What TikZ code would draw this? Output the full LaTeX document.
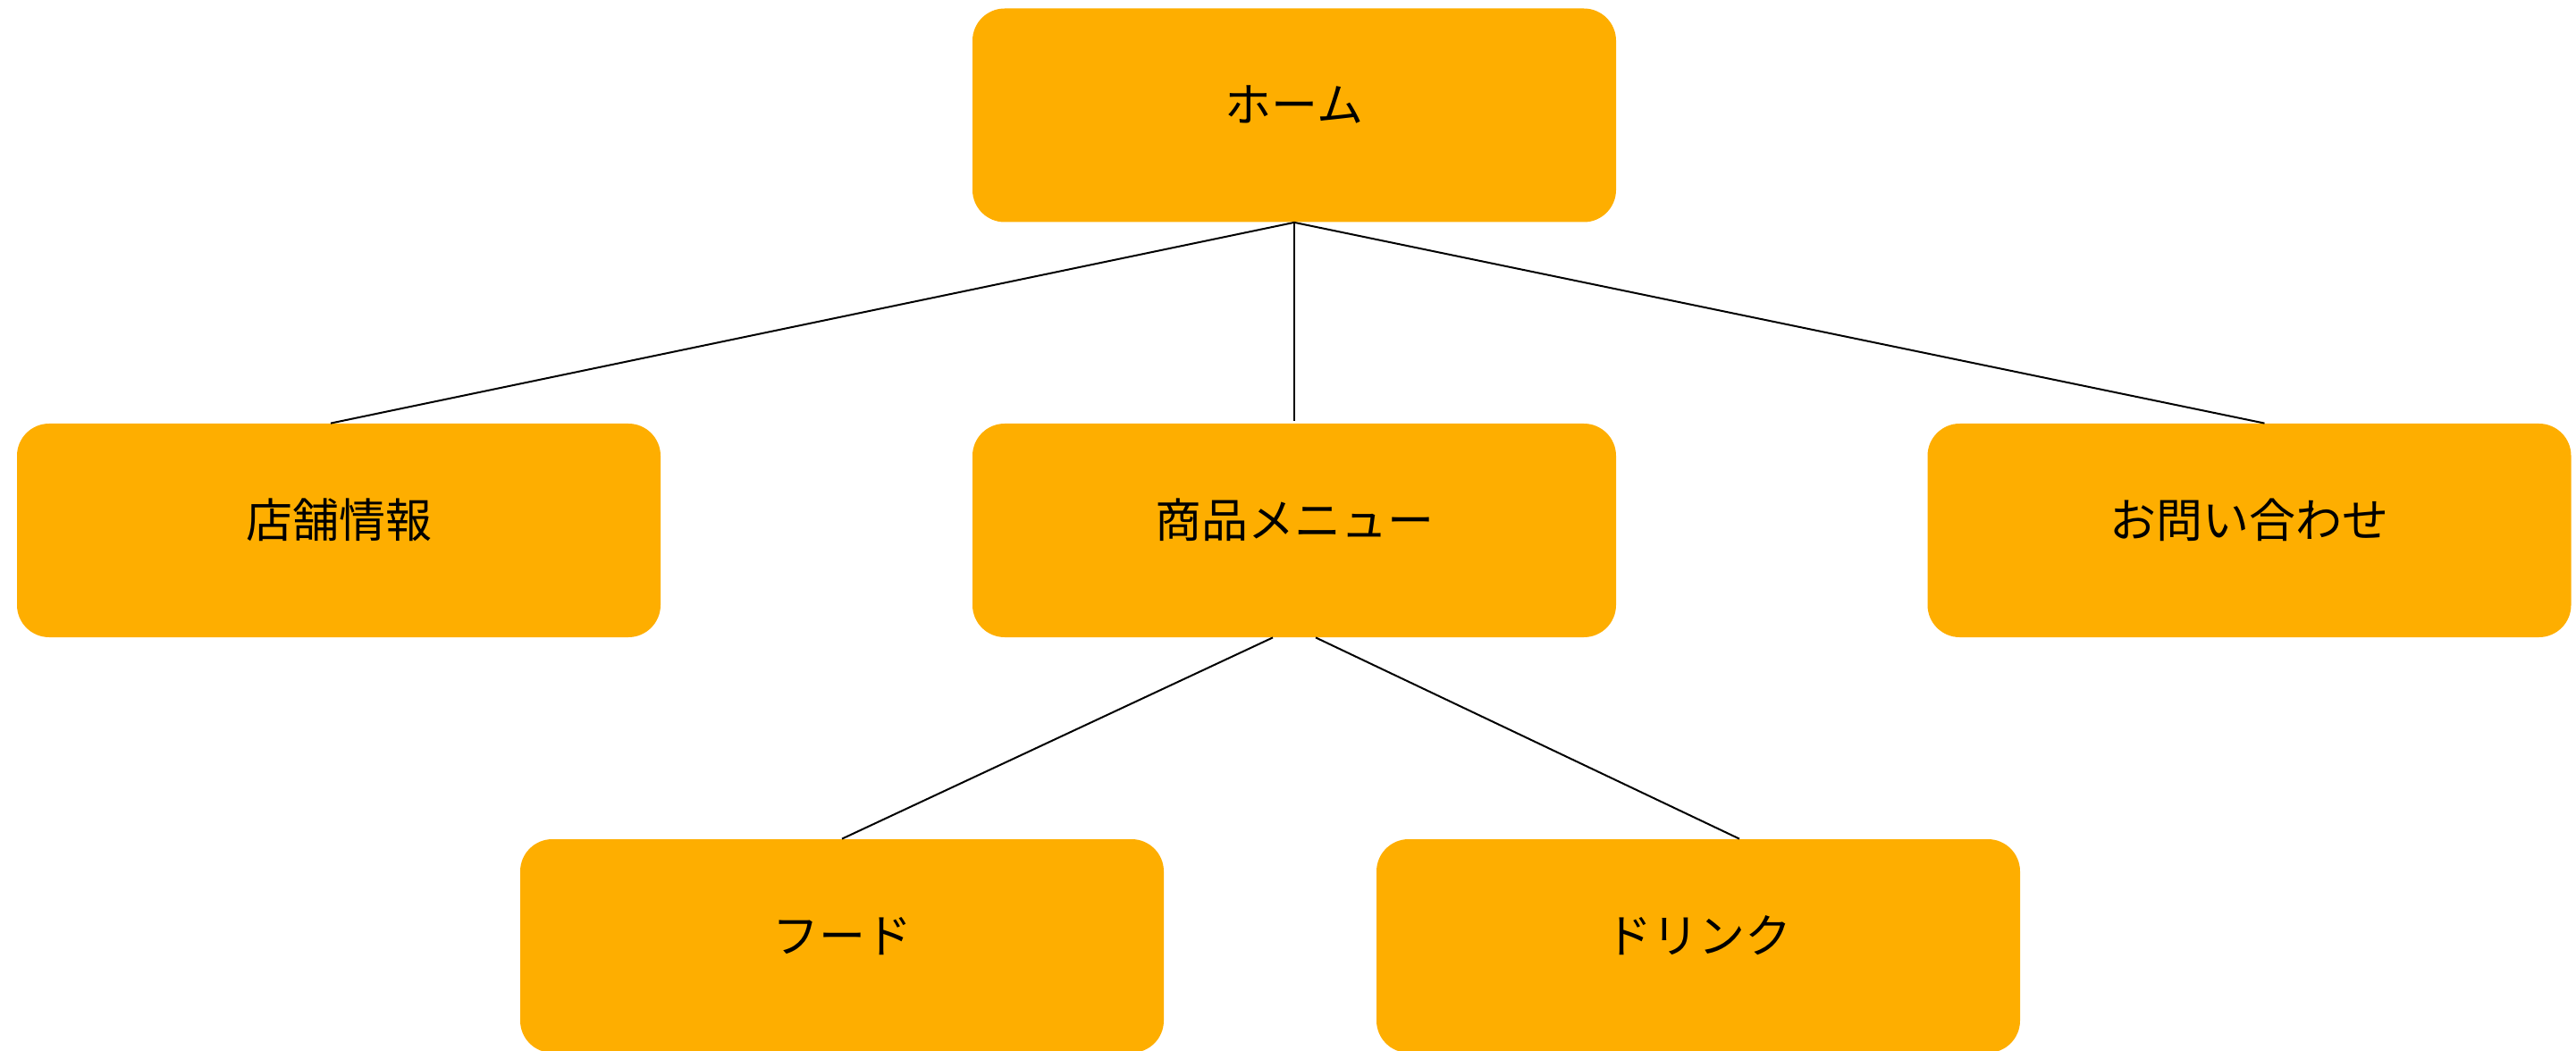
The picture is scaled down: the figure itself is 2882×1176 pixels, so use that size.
\documentclass[tikz,border=0pt]{standalone}
\usepackage{fontspec}
\setmainfont{Noto Sans CJK JP}
\usepackage{tikz}
\usetikzlibrary{positioning,calc}
\definecolor{boxorange}{RGB}{254,174,0}
\tikzstyle{box} = [fill=boxorange,rounded corners=18pt,inner sep=0pt,minimum width=360pt,minimum height=119.5pt,text height=20pt,text depth=12pt,font=\fontsize{26pt}{30pt}\selectfont]
\tikzstyle{link} = [line width=1pt]

\begin{document}
\begin{tikzpicture}[x=0.5pt,y=-0.5pt]
    \useasboundingbox (0,0) rectangle (2882,1176);
    \node [box] (home) at (1448,129) {ホーム};
    \node [box] (shop) at (379,593.5) {店舗情報};
    \node [box] (menu) at (1448,593.5) {商品メニュー};
    \node [box] (contact) at (2516.5,593.5) {お問い合わせ};
    \node [box] (food) at (942,1058.5) {フード};
    \node [box] (drink) at (1900,1058.5) {ドリンク};
    \draw [link] (home.south) -- ([xshift=-4.5pt]shop.north);
    \draw [link] (home.south) -- ([yshift=1.5pt]menu.north);
    \draw [link] (home.south) -- ([xshift=8.5pt]contact.north);
    \draw [link] ([xshift=-12pt]menu.south) -- (food.north);
    \draw [link] ([xshift=12pt]menu.south) -- ([xshift=23pt]drink.north);
  \end{tikzpicture}
\end{document}
